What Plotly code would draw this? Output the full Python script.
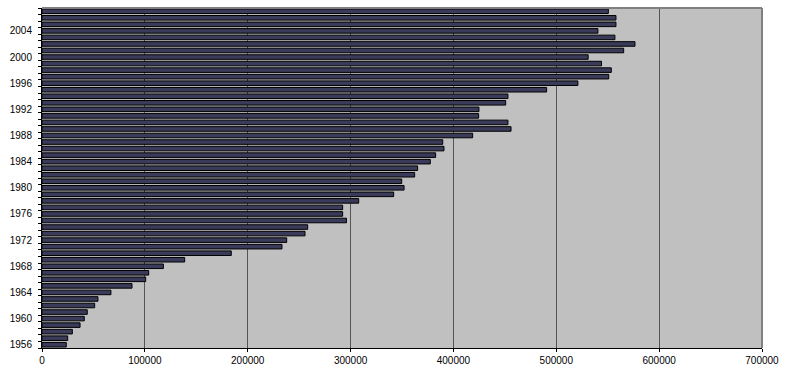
import plotly.graph_objects as go

years = list(range(1956, 2008))
values = [
    23600, 25000, 29500, 37000, 41100, 44000, 51200, 54400, 67000, 87500,   # 1956-1965
    100800, 103700, 118000, 138700, 184000, 233300, 237900, 255700, 258300, 296000,  # 1966-1975
    292300, 292300, 307900, 341900, 352000, 349700, 362300, 365200, 377500, 382700,  # 1976-1985
    390800, 389600, 418700, 456000, 453000, 424500, 424800, 450800, 453000, 490600,  # 1986-1995
    521000, 551000, 553500, 544000, 531000, 565500, 576500, 557000, 540500, 558000,  # 1996-2005
    558000, 550600,  # 2006-2007
]
year_labels = list(range(1956, 2008, 4))
x_ticks = list(range(0, 700001, 100000))

fig = go.Figure(go.Bar(
    x=values, y=years, orientation="h",
    marker=dict(color="#3a3a5a", line=dict(color="#000000", width=1)),
))

fig.update_layout(
    width=785, height=370,
    margin=dict(l=42, r=23, t=8, b=22, autoexpand=False),
    paper_bgcolor="#ffffff", plot_bgcolor="#c0c0c0",
    bargap=0.3, showlegend=False,
    font=dict(family="Liberation Sans, Arial, sans-serif", size=10, color="#000000"),
    xaxis=dict(
        range=[0, 700000], tickvals=x_ticks, ticktext=[str(v) for v in x_ticks],
        showgrid=True, gridcolor="#555555", gridwidth=1,
        showline=True, linecolor="#000000", linewidth=1,
        ticks="outside", ticklen=3, tickcolor="#000000", zeroline=False,
        automargin=False,
    ),
    yaxis=dict(
        range=[1955.5, 2007.5], tickvals=year_labels, ticktext=[str(v) for v in year_labels],
        showgrid=False, showline=True, linecolor="#000000", linewidth=1,
        ticks="", zeroline=False, automargin=False, ticklabelstandoff=7,
        minor=dict(tick0=1955.5, dtick=1, ticks="outside", ticklen=3, tickcolor="#000000", showgrid=False),
    ),
    shapes=[
        dict(type="line", xref="paper", yref="paper", x0=0, x1=1, y0=1, y1=1,
             line=dict(color="#808080", width=2), layer="above"),
        dict(type="line", xref="paper", yref="paper", x0=1, x1=1, y0=0, y1=1,
             line=dict(color="#808080", width=2), layer="above"),
    ],
)

fig.write_html("out.html", config={"displayModeBar": False},
               post_script="document.body.style.margin='0px';document.body.style.overflow='hidden';")
